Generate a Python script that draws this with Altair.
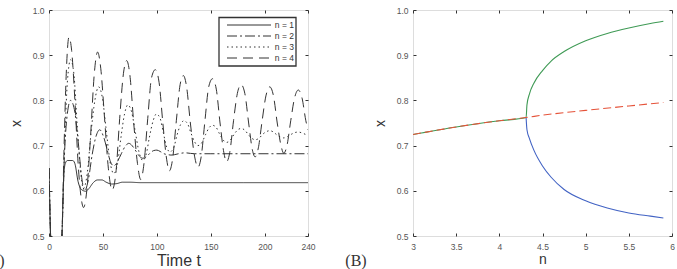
import altair as alt
import pandas as pd

# ---------------- Panel A data (time series) ----------------
series = ["n = 1", "n = 2", "n = 3", "n = 4"]

t1 = [0, 1.5, 3, 10, 12, 13.5, 15, 17, 22, 24, 27, 30, 34, 37, 41, 45, 49, 53, 58, 63, 68, 75, 85, 120, 180, 240]
v1 = [0.65, 0.5, 0.42, 0.42, 0.5, 0.62, 0.66, 0.667, 0.667, 0.66, 0.62, 0.603, 0.599, 0.605, 0.618, 0.624, 0.624,
      0.619, 0.615, 0.616, 0.619, 0.619, 0.618, 0.618, 0.618, 0.618]

t2 = [0, 1.5, 3, 10, 12, 14, 16.5, 20, 23.5, 27, 30, 33, 36.5, 40, 43.5, 47, 50.5, 54, 57, 60, 63.5, 67, 70.5,
      74, 77, 80.5, 84, 87, 90, 93.5, 97, 100, 103, 106.5, 110, 113, 116.5, 120, 126, 135, 150, 240]
v2 = [0.65, 0.5, 0.42, 0.42, 0.5, 0.66, 0.76, 0.80, 0.78, 0.71, 0.635, 0.60, 0.625, 0.68, 0.72, 0.735, 0.72, 0.69,
      0.664, 0.655, 0.665, 0.682, 0.698, 0.705, 0.70, 0.688, 0.676, 0.672, 0.675, 0.683, 0.689, 0.69, 0.687, 0.682,
      0.68, 0.679, 0.68, 0.682, 0.684, 0.682, 0.682, 0.682]

t3 = [0, 1.5, 3, 10, 12, 14.5, 17, 20, 23, 26, 29, 32, 35.5, 39, 42.5, 46, 49.5, 53, 56.5, 60, 63.5, 66.5, 70, 73,
      76.5, 80, 83.5, 87, 90, 93, 96.5, 99.5, 103, 106, 109, 112, 115.5, 118.5, 122, 125, 128.5, 131.5, 135, 138,
      141.5, 145, 148.5, 151.5, 155, 158, 161.5, 164.5, 168, 171.5, 175, 178, 181.5, 184.5, 188, 191, 194.5, 198,
      201.5, 204.5, 208, 211, 214.5, 217.5, 221, 224.5, 228, 231, 234.5, 237.5, 240]
v3 = [0.65, 0.5, 0.42, 0.42, 0.5, 0.70, 0.84, 0.89, 0.86, 0.75, 0.65, 0.605, 0.64, 0.73, 0.80, 0.83, 0.805, 0.735,
      0.665, 0.638, 0.66, 0.715, 0.77, 0.79, 0.775, 0.73, 0.685, 0.667, 0.68, 0.718, 0.755, 0.77, 0.76, 0.728, 0.697,
      0.686, 0.695, 0.722, 0.747, 0.755, 0.748, 0.728, 0.708, 0.70, 0.706, 0.724, 0.74, 0.745, 0.74, 0.726, 0.712,
      0.707, 0.712, 0.725, 0.735, 0.738, 0.734, 0.725, 0.716, 0.713, 0.716, 0.725, 0.731, 0.733, 0.73, 0.724, 0.719,
      0.717, 0.72, 0.725, 0.729, 0.73, 0.728, 0.725, 0.723]

t4 = [0, 1.5, 3, 10, 12, 14, 16, 18.5, 21, 24, 27, 29.5, 32, 35, 38.5, 42, 45, 48, 51.5, 55, 58.5, 62, 65.5, 69,
      72, 75, 78.5, 82, 85, 88, 91.5, 95, 98.5, 102, 105.5, 109, 111.5, 114.5, 118, 121.5, 124.5, 127.5, 131, 135,
      138, 141, 144.5, 148, 151.5, 155, 158.5, 162, 164.5, 167.5, 171, 174.5, 178, 181.5, 185, 188.5, 191, 194,
      197.5, 201, 204.5, 208, 211.5, 215, 217.5, 220.5, 224, 227.5, 231, 234.5, 238, 240]
v4 = [0.65, 0.5, 0.42, 0.42, 0.5, 0.70, 0.86, 0.94, 0.91, 0.80, 0.66, 0.59, 0.563, 0.60, 0.72, 0.86, 0.907, 0.87,
      0.76, 0.65, 0.602, 0.64, 0.76, 0.86, 0.888, 0.855, 0.75, 0.66, 0.625, 0.66, 0.76, 0.85, 0.868, 0.84, 0.75,
      0.67, 0.644, 0.67, 0.755, 0.835, 0.855, 0.83, 0.75, 0.675, 0.652, 0.675, 0.755, 0.83, 0.848, 0.825, 0.75,
      0.685, 0.664, 0.685, 0.755, 0.815, 0.835, 0.815, 0.75, 0.69, 0.675, 0.695, 0.755, 0.81, 0.83, 0.81, 0.75,
      0.70, 0.683, 0.70, 0.755, 0.805, 0.823, 0.805, 0.755, 0.735]

time_ticks = [0, 50, 100, 150, 200, 240]
x_ticks = [0.5, 0.6, 0.7, 0.8, 0.9, 1.0]

# ---------------- Panel B data (bifurcation) ----------------
n_fixed = [3.0, 3.5, 4.0, 4.31, 4.5, 5.0, 5.5, 5.9]
x_fixed = [0.7245, 0.7413, 0.7549, 0.7622, 0.7673, 0.778, 0.7877, 0.7953]

n_green = [3.0, 3.5, 4.0, 4.31, 4.32, 4.35, 4.4, 4.5, 4.6, 4.75, 5.0, 5.25, 5.5, 5.75, 5.9]
x_green = [0.7245, 0.7413, 0.7549, 0.7622, 0.79, 0.815, 0.838, 0.866, 0.887, 0.908, 0.932, 0.948, 0.96, 0.97, 0.975]

n_blue = [4.31, 4.32, 4.35, 4.4, 4.5, 4.6, 4.75, 5.0, 5.25, 5.5, 5.75, 5.9]
x_blue = [0.7622, 0.735, 0.715, 0.69, 0.655, 0.63, 0.603, 0.578, 0.562, 0.551, 0.544, 0.54]

n_ticks = [3, 3.5, 4, 4.5, 5, 5.5, 6]

# ---------------- tables ----------------
rows = []
for name, ts, vs in zip(series, [t1, t2, t3, t4], [v1, v2, v3, v4]):
    for t, v in zip(ts, vs):
        rows.append({"series": name, "t": t, "x": v})
left_df = pd.DataFrame(rows)
legend_df = pd.DataFrame({"series": series})

fixed_df = pd.DataFrame({"n": n_fixed, "x": x_fixed})
green_df = pd.DataFrame({"n": n_green, "x": x_green})
blue_df = pd.DataFrame({"n": n_blue, "x": x_blue})

FONT = "Liberation Sans"
INK = "#333333"
LAB = "#555555"

W, H = 259, 226

ys = alt.Scale(domain=[0.5, 1.0], nice=False, zero=False)
xs_left = alt.Scale(domain=[0, 240], nice=False, zero=False)
xs_right = alt.Scale(domain=[3, 6], nice=False, zero=False)

dash_scale = alt.Scale(domain=series, range=[[1, 0], [10, 3, 2, 3], [1.5, 3], [10, 6]])


def ax(orient, values, title=None, labels=True, fmt=None, title_size=14, title_pad=4, label_pad=5):
    kw = dict(orient=orient, values=values, domain=False, grid=False, tickSize=3, tickColor=INK,
              tickWidth=1, offset=-3, labels=labels, labelColor=LAB, labelFontSize=8.5, labelFont=FONT,
              labelPadding=label_pad, titleFont=FONT, titleColor=INK, titleFontWeight="normal",
              titleFontSize=title_size, titlePadding=title_pad, labelFlush=False)
    if fmt:
        kw["format"] = fmt
    kw["title"] = title
    return alt.Axis(**kw)


# ---------------- Panel A ----------------
lines_a = alt.Chart(left_df).mark_line(clip=True, color=INK, strokeWidth=1, interpolate="monotone").encode(
    x=alt.X("t:Q", scale=xs_left, axis=ax("bottom", time_ticks, "Time t", title_size=16, title_pad=2, label_pad=6)),
    y=alt.Y("x:Q", scale=ys, axis=ax("left", x_ticks, "x", fmt=".1f", title_pad=9)),
    strokeDash=alt.StrokeDash("series:N", scale=dash_scale, legend=None),
    detail="series:N",
)
ghost_a = alt.Chart(left_df).mark_line(opacity=0).encode(
    x=alt.X("t:Q", scale=xs_left, axis=ax("top", time_ticks, labels=False)),
    y=alt.Y("x:Q", scale=ys, axis=ax("right", x_ticks, labels=False)),
    detail="series:N",
)
box_a = alt.Chart(pd.DataFrame({"box": [0]})).mark_rect(fill="white", stroke=INK, strokeWidth=1.3).encode(
    x=alt.value(170), x2=alt.value(247), y=alt.value(7.5), y2=alt.value(56)
)
leg_y = alt.Y("series:N", scale=alt.Scale(type="point", domain=series, range=[15, 48], padding=0), axis=None)
leg_rules = alt.Chart(legend_df).mark_rule(color=INK, strokeWidth=1).encode(
    x=alt.value(178), x2=alt.value(222), y=leg_y,
    strokeDash=alt.StrokeDash("series:N", scale=dash_scale, legend=None),
)
leg_text = alt.Chart(legend_df).mark_text(align="right", baseline="middle", fontSize=8.5, font=FONT,
                                          color=INK).encode(
    x=alt.value(245), y=leg_y, text="series:N"
)
tag_a = alt.Chart(pd.DataFrame({"label": ["(A)"]})).mark_text(
    align="right", baseline="middle", fontSize=16, font="Liberation Serif", color=INK
).encode(x=alt.value(-44.5), y=alt.value(251), text="label:N")

panel_a = alt.layer(lines_a, ghost_a, box_a, leg_rules, leg_text, tag_a).resolve_scale(
    y="independent"
).resolve_axis(x="independent", y="independent").properties(width=W, height=H)

# ---------------- Panel B ----------------
xb_axis = ax("bottom", n_ticks, "n", fmt="~g", title_size=14, title_pad=2, label_pad=6)
yb_axis = ax("left", x_ticks, "x", fmt=".1f", title_pad=9)

green = alt.Chart(green_df).mark_line(clip=True, color="#3f9a55", strokeWidth=1.1, interpolate="monotone").encode(
    x=alt.X("n:Q", scale=xs_right, axis=xb_axis),
    y=alt.Y("x:Q", scale=ys, axis=yb_axis),
)
blue = alt.Chart(blue_df).mark_line(clip=True, color="#4263c4", strokeWidth=1.1, interpolate="monotone").encode(
    x=alt.X("n:Q", scale=xs_right, axis=None),
    y=alt.Y("x:Q", scale=ys, axis=None),
)
red = alt.Chart(fixed_df).mark_line(clip=True, color="#e5533a", strokeWidth=1.1, strokeDash=[8, 4],
                                    interpolate="monotone").encode(
    x=alt.X("n:Q", scale=xs_right, axis=None),
    y=alt.Y("x:Q", scale=ys, axis=None),
)
ghost_b = alt.Chart(fixed_df).mark_line(opacity=0).encode(
    x=alt.X("n:Q", scale=xs_right, axis=ax("top", n_ticks, labels=False)),
    y=alt.Y("x:Q", scale=ys, axis=ax("right", x_ticks, labels=False)),
)
tag_b = alt.Chart(pd.DataFrame({"label": ["(B)"]})).mark_text(
    align="center", baseline="middle", fontSize=16, font="Liberation Serif", color=INK
).encode(x=alt.value(-57), y=alt.value(251), text="label:N")

panel_b = alt.layer(green, blue, red, ghost_b, tag_b).resolve_axis(
    x="independent", y="independent"
).properties(width=W, height=H)

chart = alt.hconcat(panel_a, panel_b, spacing=105, bounds="flush").properties(
    padding={"left": -19, "top": 5, "right": 0, "bottom": 0}
).configure_view(stroke=INK, strokeWidth=1).configure(font=FONT, background="white")

chart.save("out.html", embed_options={"renderer": "svg", "actions": False})
